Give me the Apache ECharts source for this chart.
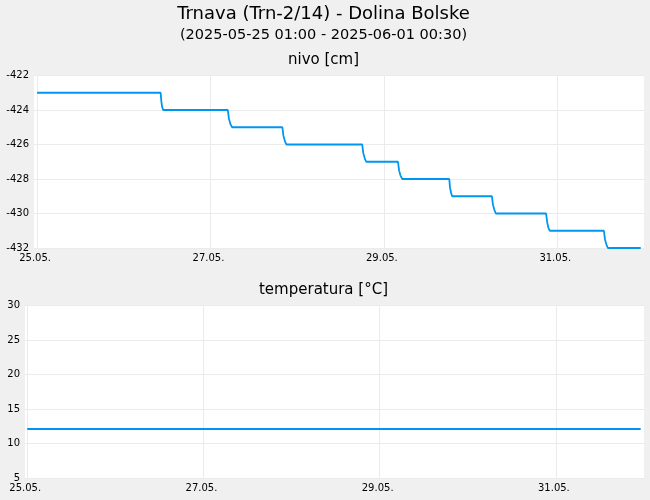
<!DOCTYPE html>
<html>
<head>
<meta charset="utf-8">
<script src="https://cdn.jsdelivr.net/npm/echarts@6/dist/echarts.min.js"></script>
<style>
  html, body { margin: 0; padding: 0; background: #f0f0f0; }
  #chart { width: 650px; height: 500px; }
</style>
</head>
<body>
<div id="chart"></div>
<script>
// hours counted from the 25.05. tick
var tickHours = [0, 48, 96, 144];
var tickLabels = ['25.05.', '27.05.', '29.05.', '31.05.'];

var levelHours = [0,
  34.2, 34.4, 34.6, 34.9,
  52.8, 53.1, 53.5, 54.0,
  67.9, 68.2, 68.6, 69.0,
  90.0, 90.3, 90.7, 91.1,
  99.9, 100.2, 100.6, 101.1,
  114.1, 114.3, 114.6, 114.9,
  125.9, 126.2, 126.6, 127.0,
  140.9, 141.2, 141.5, 141.9,
  156.9, 157.2, 157.6, 158.0,
  167.1];
var levelValues = [-423,
  -423.1, -423.5, -423.8, -424,
  -424.1, -424.5, -424.8, -425,
  -425.1, -425.5, -425.8, -426,
  -426.1, -426.5, -426.8, -427,
  -427.1, -427.5, -427.8, -428,
  -428.1, -428.5, -428.8, -429,
  -429.1, -429.5, -429.8, -430,
  -430.1, -430.5, -430.8, -431,
  -431.1, -431.5, -431.8, -432,
  -432];

var tempHours = [0, 48, 96, 144, 167.1];
var tempValues = [12.1, 12.1, 12.1, 12.1, 12.1];

(function () {
  var font = 'DejaVu Sans';
  var ink = '#000';
  var rule = '#ebebeb';
  var blue = '#0096ee';

  function pairs(xs, ys) {
    return xs.map(function (x, i) { return [x, ys[i]]; });
  }

  function xAxis(gridIndex, min) {
    return {
      type: 'value',
      gridIndex: gridIndex,
      min: min,
      max: 168,
      axisLine: { show: false },
      axisTick: { show: false, customValues: tickHours },
      axisLabel: {
        customValues: tickHours,
        color: ink,
        fontFamily: font,
        fontSize: 10,
        margin: 5,
        padding: [0, 4, 0, 0],
        formatter: function (v) { return tickLabels[tickHours.indexOf(v)] || ''; }
      },
      splitLine: { show: true, lineStyle: { color: rule, width: 1 } }
    };
  }

  function yAxis(gridIndex, min, max, interval) {
    return {
      type: 'value',
      gridIndex: gridIndex,
      min: min,
      max: max,
      interval: interval,
      axisLine: { show: false },
      axisTick: { show: false },
      axisLabel: { color: ink, fontFamily: font, fontSize: 10, margin: 5 },
      splitLine: { show: true, lineStyle: { color: rule, width: 1 } }
    };
  }

  function label(text, x, y, size) {
    return {
      type: 'text',
      x: x,
      y: y,
      style: {
        text: text,
        fill: ink,
        font: size + 'px "' + font + '"',
        align: 'center',
        verticalAlign: 'middle'
      }
    };
  }

  var chart = echarts.init(document.getElementById('chart'), null, { renderer: 'canvas' });
  chart.setOption({
    animation: false,
    backgroundColor: '#f0f0f0',
    graphic: [
      label('Trnava (Trn-2/14) - Dolina Bolske', 323.5, 14.5, 18),
      label('(2025-05-25 01:00 - 2025-06-01 00:30)', 323.5, 35.5, 14.5),
      label('nivo [cm]', 323.5, 60.5, 15),
      label('temperatura [°C]', 323.5, 290.5, 15)
    ],
    grid: [
      { left: 34, right: 6, top: 75.5, height: 172.5, show: true, backgroundColor: '#fff', borderWidth: 0 },
      { left: 25, right: 6, top: 305.5, height: 172.5, show: true, backgroundColor: '#fff', borderWidth: 0 }
    ],
    xAxis: [xAxis(0, -0.85), xAxis(1, -0.6)],
    yAxis: [yAxis(0, -432, -422, 2), yAxis(1, 5, 30, 5)],
    series: [{
      type: 'line',
      xAxisIndex: 0,
      yAxisIndex: 0,
      step: 'end',
      showSymbol: false,
      data: pairs(levelHours, levelValues),
      lineStyle: { color: blue, width: 1.8 }
    }, {
      type: 'line',
      xAxisIndex: 1,
      yAxisIndex: 1,
      showSymbol: false,
      data: pairs(tempHours, tempValues),
      lineStyle: { color: blue, width: 2 }
    }]
  });
})();
</script>
</body>
</html>
